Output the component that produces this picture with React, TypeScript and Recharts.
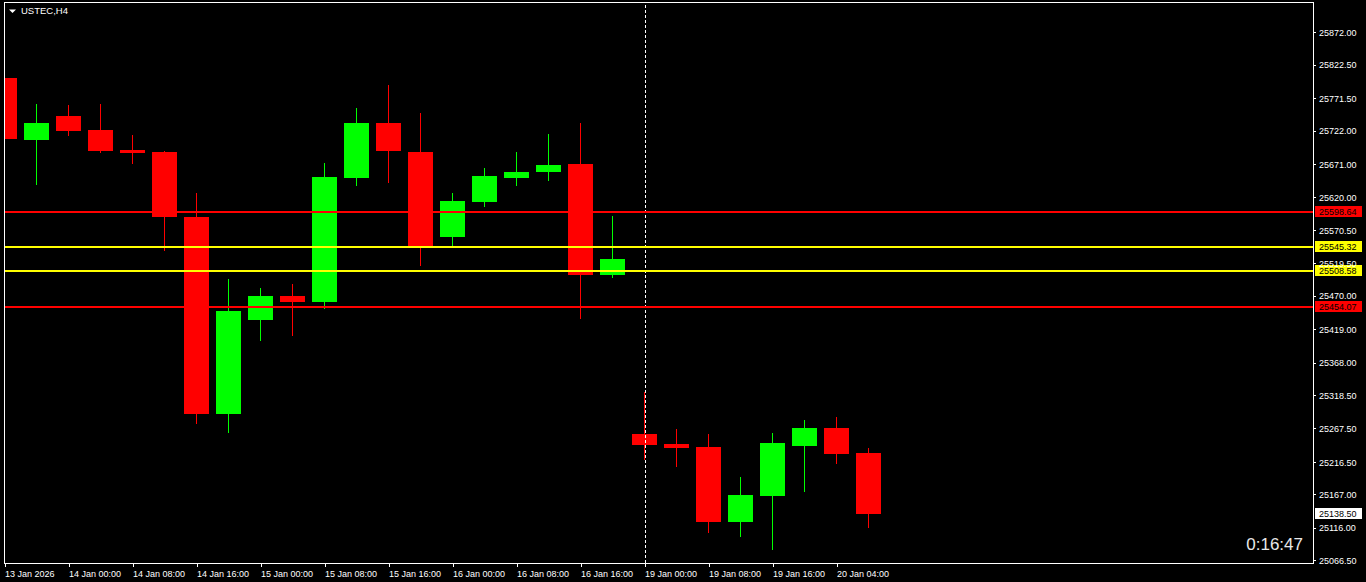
import { ComposedChart, Bar, XAxis, YAxis, ReferenceLine } from "recharts"

// H4 candles, left to right (13 Jan 16:00 .. 20 Jan 08:00)
const opens = [
  25802.9, 25708.8, 25744.9, 25723.6, 25693.1, 25690.0, 25590.8, 25290.3, 25433.7, 25470.3,
  25461.2, 25650.3, 25734.2, 25690.0, 25560.3, 25613.7, 25650.3, 25659.5, 25671.7, 25502.4,
  25259.8, 25244.5, 25240.0, 25125.6, 25165.2, 25241.5, 25268.9, 25230.8,
]
const highs = [
  25876.1, 25763.2, 25761.7, 25763.2, 25715.9, 25691.0, 25627.5, 25496.3, 25482.5, 25488.6,
  25673.2, 25757.1, 25792.2, 25749.5, 25627.5, 25665.6, 25690.0, 25717.5, 25734.2, 25592.3,
  25323.9, 25267.4, 25259.8, 25194.2, 25261.3, 25281.1, 25285.7, 25238.4,
]
const lows = [
  25643.2, 25640.1, 25714.4, 25688.9, 25672.1, 25538.9, 25275.0, 25261.3, 25401.7, 25409.3,
  25450.5, 25638.1, 25642.7, 25516.1, 25545.1, 25606.1, 25638.1, 25645.8, 25435.2, 25497.8,
  25220.1, 25209.4, 25108.8, 25102.7, 25082.8, 25171.3, 25214.0, 25116.4,
]
const closes = [
  25710.3, 25734.2, 25722.5, 25692.0, 25688.5, 25590.8, 25290.3, 25447.5, 25470.3, 25461.2,
  25651.9, 25734.2, 25691.5, 25544.0, 25615.2, 25653.4, 25659.5, 25670.2, 25502.4, 25526.7,
  25243.0, 25238.4, 25125.6, 25166.7, 25246.1, 25268.9, 25229.3, 25138.5,
]

const timeTicks = [0, 2, 4, 6, 8, 10, 12, 14, 16, 18, 20, 22, 24, 26]
const timeLabels = [
  "13 Jan 2026", "14 Jan 00:00", "14 Jan 08:00", "14 Jan 16:00", "15 Jan 00:00",
  "15 Jan 08:00", "15 Jan 16:00", "16 Jan 00:00", "16 Jan 08:00", "16 Jan 16:00",
  "19 Jan 00:00", "19 Jan 08:00", "19 Jan 16:00", "20 Jan 04:00",
]

const priceTicks = [
  25066.5, 25116, 25167, 25216.5, 25267.5, 25318.5, 25368, 25419, 25470,
  25519.5, 25570.5, 25620, 25671, 25722, 25771.5, 25822.5, 25872,
]

const levelPrices = [25598.64, 25545.32, 25508.58, 25454.07]
const levelKinds = ["red", "yellow", "yellow", "red"]
const separatorIndex = 20

const FONT = "'Liberation Sans', Arial, sans-serif"
const UP = "#00ff00"
const DOWN = "#ff0000"
const LEVEL_COLORS: Record<string, string> = { red: "#ff0000", yellow: "#ffff00" }

const data = opens.map((o, i) => ({
  i,
  open: o,
  high: highs[i],
  low: lows[i],
  close: closes[i],
}))

function Candle(props: any) {
  const { x, y, width, height, payload } = props
  if (!payload) return null
  const top = Math.min(y, y + height)
  const h = Math.abs(height)
  const span = payload.high - payload.low || 1
  const px = (v: number) => top + ((payload.high - v) / span) * h
  const cx = Math.floor(x + width / 2)
  const color = payload.close >= payload.open ? UP : DOWN
  const bTop = Math.round(px(Math.max(payload.open, payload.close)))
  const bBot = Math.round(px(Math.min(payload.open, payload.close)))
  return (
    <g>
      <line x1={cx + 0.5} x2={cx + 0.5} y1={top} y2={top + h} stroke={color} strokeWidth={1} />
      <rect x={cx - 12} y={bTop} width={25} height={Math.max(bBot - bTop, 2)} fill={color} />
    </g>
  )
}

function XTick(props: any) {
  const { x, payload } = props
  const k = timeTicks.indexOf(payload.value)
  return (
    <text x={Math.floor(x)} y={577} fill="#ffffff" fontSize={9} fontFamily={FONT}>
      {timeLabels[k]}
    </text>
  )
}

function priceBox(price: number, bg: string) {
  return (props: any) => {
    const vb = props.viewBox
    if (!vb) return null
    const yy = vb.y
    const xx = vb.x + vb.width
    return (
      <g>
        <rect x={xx + 2} y={yy - 5.5} width={47} height={11} fill={bg} />
        <text x={xx + 6} y={yy} dy="0.355em" fontSize={9} fontFamily={FONT} fill="#000000">
          {price.toFixed(2)}
        </text>
      </g>
    )
  }
}

export default function App() {
  const last = closes[closes.length - 1]
  return (
    <div style={{ position: "fixed", left: 0, top: 0, width: 1366, height: 582, background: "#000" }}>
      <ComposedChart
        width={1366}
        height={582}
        data={data}
        margin={{ top: 2, right: 0, left: 4, bottom: 0 }}
        style={{ shapeRendering: "crispEdges" }}
      >
        <XAxis
          dataKey="i"
          type="number"
          domain={[-0.0406, 40.866]}
          allowDataOverflow
          ticks={timeTicks}
          interval={0}
          height={19}
          axisLine={false}
          tickLine={{ stroke: "#ffffff" }}
          tickSize={4}
          tick={<XTick />}
        />
        <YAxis
          orientation="right"
          width={53}
          domain={[25062.99, 25918.84]}
          allowDataOverflow
          ticks={priceTicks}
          interval={0}
          axisLine={false}
          tickLine={{ stroke: "#ffffff" }}
          tickSize={3}
          tickMargin={3}
          tickFormatter={(v: number) => v.toFixed(2)}
          tick={{ fill: "#ffffff", fontSize: 9, fontFamily: FONT }}
        />
        <ReferenceLine x={separatorIndex} stroke="#ffffff" strokeDasharray="3 2" />
        {levelPrices.map((p, k) => (
          <ReferenceLine
            key={p}
            y={p}
            stroke={LEVEL_COLORS[levelKinds[k]]}
            strokeWidth={2}
            label={priceBox(p, LEVEL_COLORS[levelKinds[k]])}
          />
        ))}
        <ReferenceLine y={last} stroke="none" label={priceBox(last, "#ffffff")} />
        <Bar
          dataKey={(d: any) => [d.low, d.high]}
          barSize={25}
          shape={<Candle />}
          isAnimationActive={false}
        />
      </ComposedChart>
      <svg
        width={1366}
        height={582}
        style={{ position: "absolute", left: 0, top: 0, pointerEvents: "none" }}
      >
        <rect x={4.5} y={2.5} width={1309} height={561} fill="none" stroke="#ffffff" strokeWidth={1} />
        <polygon points="9,9.5 16,9.5 12.5,13" fill="#ffffff" />
        <text x={21} y={14} fill="#ffffff" fontSize={9.5} fontFamily={FONT}>
          USTEC,H4
        </text>
        <text x={1303} y={550} fill="#e8e8e8" fontSize={17} fontFamily={FONT} textAnchor="end">
          0:16:47
        </text>
      </svg>
    </div>
  )
}
